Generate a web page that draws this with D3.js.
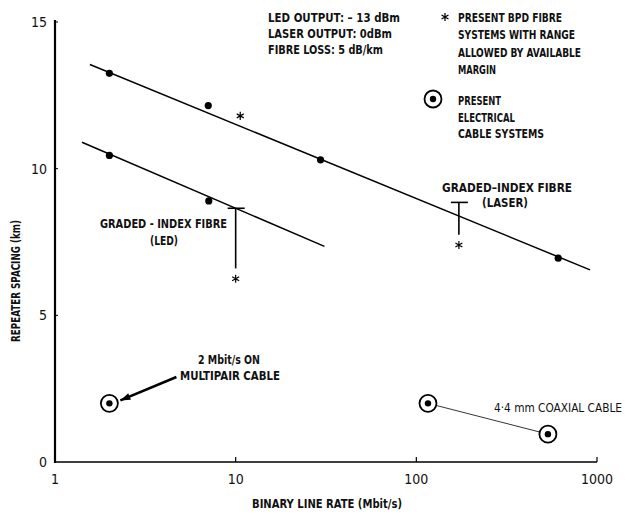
<!DOCTYPE html>
<html><head><meta charset="utf-8">
<script src="https://cdn.jsdelivr.net/npm/d3@7"></script>
<style>
body{margin:0;background:#fff;}
text{font-family:"DejaVu Sans Condensed","DejaVu Sans","Liberation Sans Narrow",sans-serif;font-stretch:condensed;font-weight:bold;fill:#111;}
</style></head>
<body><svg id="c" width="632" height="515"></svg>
<script>
// ---- data ----
const xTicks = [1, 10, 100, 1000];
const yTicks = [0, 5, 10, 15];
const laserPoints = [{x:2,y:13.25},{x:7.05,y:12.15},{x:29.5,y:10.3},{x:610,y:6.95}];
const laserFit = [{x:1.56,y:13.55},{x:915,y:6.55}];
const ledPoints = [{x:2,y:10.45},{x:7.1,y:8.9}];
const ledFit = [{x:1.41,y:10.9},{x:31,y:7.35}];
const bpdSingle = [{x:10.6,y:11.8}];
const bpdRanges = [{x:10,top:8.65,bottom:6.6,star:6.25},{x:172,top:8.85,bottom:7.75,star:7.4}];
const multipair = [{x:2,y:2}];
const coaxial = [{x:116,y:2},{x:535,y:0.95}];
const topNotes = [["LED OUTPUT: \u2013 13 dBm",132],["LASER OUTPUT: 0dBm",124],["FIBRE LOSS: 5 dB/km",115]];
const starLegend = [["PRESENT BPD FIBRE",104],["SYSTEMS WITH RANGE",117],["ALLOWED BY AVAILABLE",123],["MARGIN",38]];
const circleLegend = [["PRESENT",43],["ELECTRICAL",57],["CABLE SYSTEMS",86]];

const svg = d3.select("#c");
const x = d3.scaleLog().domain([1,1000]).range([55,597]);
const y = d3.scaleLinear().domain([0,15]).range([462,22]);
const line = d3.line().x(d=>x(d.x)).y(d=>y(d.y));

function label(px,py,txt,len,size,anchor,weight){
  const t = svg.append("text").attr("x",px).attr("y",py).attr("font-size",size||13)
    .attr("text-anchor",anchor||"start").text(txt);
  if(len) t.attr("textLength",len).attr("lengthAdjust","spacingAndGlyphs");
  if(weight) t.style("font-weight",weight);
  return t;
}

// axes
svg.append("line").attr("x1",x(1)).attr("x2",x(1)).attr("y1",y(15)-2).attr("y2",y(0)+1)
  .attr("stroke","#000").attr("stroke-width",2.2);
svg.append("line").attr("x1",x(1)).attr("x2",x(1000)).attr("y1",y(0)).attr("y2",y(0))
  .attr("stroke","#000").attr("stroke-width",1.3);
svg.selectAll(".xt").data(xTicks.slice(1)).join("line")
  .attr("x1",d=>x(d)).attr("x2",d=>x(d)).attr("y1",y(0)).attr("y2",y(0)-5)
  .attr("stroke","#000").attr("stroke-width",1.2);
svg.selectAll(".yt").data(yTicks.slice(1)).join("line")
  .attr("x1",x(1)).attr("x2",x(1)+3).attr("y1",d=>y(d)).attr("y2",d=>y(d))
  .attr("stroke","#000").attr("stroke-width",1);
xTicks.forEach(d=>label(x(d),484,d,null,14,"middle","normal"));
yTicks.forEach(d=>label(47,y(d)+5,d,null,14,"end","normal"));
label(327,508,"BINARY LINE RATE (Mbit/s)",150,12.5,"middle");
label(0,0,"REPEATER SPACING (km)",122,12.5,"middle").attr("x",null).attr("y",null)
  .attr("transform","translate(20,281) rotate(-90)");

// fits
[laserFit, ledFit].forEach(f=>svg.append("path").attr("d",line(f)).attr("fill","none")
  .attr("stroke","#000").attr("stroke-width",1.5));
svg.selectAll(".pt").data(laserPoints.concat(ledPoints)).join("circle")
  .attr("cx",d=>x(d.x)).attr("cy",d=>y(d.y)).attr("r",3.6).attr("fill","#000");

// stars
const star = d3.symbol(d3.symbolAsterisk).size(45);
function drawStar(px,py){
  svg.append("path").attr("d",star()).attr("transform",`translate(${px},${py})`)
    .attr("fill","none").attr("stroke","#000").attr("stroke-width",1.2);
}
bpdSingle.forEach(d=>drawStar(x(d.x),y(d.y)));
bpdRanges.forEach(d=>{
  svg.append("line").attr("x1",x(d.x)).attr("x2",x(d.x)).attr("y1",y(d.top)).attr("y2",y(d.bottom))
    .attr("stroke","#000").attr("stroke-width",1.6);
  svg.append("line").attr("x1",x(d.x)-8).attr("x2",x(d.x)+9).attr("y1",y(d.top)).attr("y2",y(d.top))
    .attr("stroke","#000").attr("stroke-width",1.6);
  drawStar(x(d.x),y(d.star));
});

// fibre labels
label(100,228,"GRADED - INDEX FIBRE",127,13);
label(150,245,"(LED)",28,13);
label(442,192,"GRADED\u2013INDEX FIBRE",130,13);
label(482,207,"(LASER)",46,13);

// cable systems
function ringDot(px,py){
  svg.append("circle").attr("cx",px).attr("cy",py).attr("r",8.5).attr("fill","#fff")
    .attr("stroke","#000").attr("stroke-width",1.8);
  svg.append("circle").attr("cx",px).attr("cy",py).attr("r",3.2).attr("fill","#000");
}
svg.append("path").attr("d",line(coaxial)).attr("stroke","#000").attr("stroke-width",0.8).attr("fill","none");
multipair.concat(coaxial).forEach(d=>ringDot(x(d.x),y(d.y)));
// arrow to multipair
const arrowFrom = {x:4.7,y:2.9}, arrowTo = {x:2.3,y:2.1};
svg.append("line").attr("x1",x(arrowFrom.x)).attr("y1",y(arrowFrom.y))
  .attr("x2",x(arrowTo.x)).attr("y2",y(arrowTo.y)).attr("stroke","#000").attr("stroke-width",2.6);
{
  const ax=x(arrowTo.x), ay=y(arrowTo.y), bx=x(arrowFrom.x), by=y(arrowFrom.y);
  const ang=Math.atan2(by-ay,bx-ax), L=10, W=3.5;
  const p=[[ax,ay],[ax+L*Math.cos(ang)-W*Math.sin(ang),ay+L*Math.sin(ang)+W*Math.cos(ang)],
           [ax+L*Math.cos(ang)+W*Math.sin(ang),ay+L*Math.sin(ang)-W*Math.cos(ang)]];
  svg.append("path").attr("d","M"+p.join("L")+"Z").attr("fill","#000");
}
label(198,364,"2 Mbit/s ON",62,13);
label(180,380,"MULTIPAIR CABLE",100,13);
label(494,412,"4\u00b74 mm COAXIAL CABLE",128,12,"start","normal");

// notes and legend
topNotes.forEach((d,i)=>label(268,22+i*16,d[0],d[1],13));
drawStar(445,17);
starLegend.forEach((d,i)=>label(458,22+i*17.3,d[0],d[1],13));
ringDot(433,99);
circleLegend.forEach((d,i)=>label(458,105+i*16.5,d[0],d[1],13));
</script></body></html>
